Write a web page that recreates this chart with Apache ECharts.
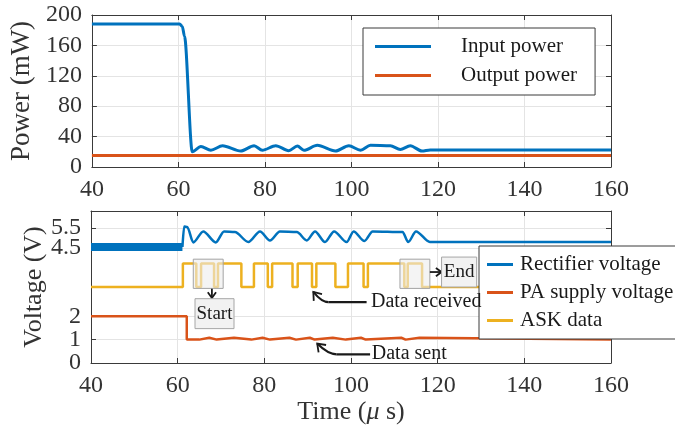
<!DOCTYPE html>
<html>
<head>
<meta charset="utf-8">
<script src="https://cdn.jsdelivr.net/npm/echarts@6/dist/echarts.min.js"></script>
<style>
  html, body { margin: 0; padding: 0; background: #ffffff; }
  #chart { width: 675px; height: 431px; }
</style>
</head>
<body>
<div id="chart"></div>
<script>
// ---- Axis ticks ----
const timeTicks = [40, 60, 80, 100, 120, 140, 160];
const powerTicks = [0, 40, 80, 120, 160, 200];
const lowVoltageTicks = [0, 1, 2];
const rectifierTicks = [4.5, 5.5];

// ---- Power (mW) ----
const inputTime  = [40, 60.3, 60.9, 61.4, 63.2, 65.2, 67.5, 70.2, 74.4, 77.5, 79.4, 82.5, 85.5, 87.5, 89.0, 92.1, 96.3, 99.4, 102.1, 104.4, 109.0, 111.3, 113.6, 116.3, 118.2, 160];
const inputPower = [188, 188, 185, 172, 20, 27, 22, 28, 21, 28, 22, 28, 21.5, 27.5, 22, 28.5, 21, 28, 22, 28.5, 28, 23, 28, 21, 22.5, 22.5];
const outputTime  = [40, 160];
const outputPower = [15, 15];

// ---- Rectifier voltage (V): rippling band before the link starts, then the response ----
const rectRippleTime = [40, 61.1];
const rectRippleVolt = [4.55, 4.55];
const rectTime = [61.1, 61.5, 62.2, 63.6, 65.9, 68.8, 70.7, 73.2, 76.3, 79.0, 81.3, 83.6, 87.5, 89.8, 91.7, 94.0, 96.1, 99.0, 100.6, 103.1, 105.0, 111.9, 113.2, 115.0, 118.2, 160];
const rectVolt = [4.55, 5.58, 5.55, 4.78, 5.33, 4.78, 5.33, 5.3, 4.8, 5.33, 4.88, 5.33, 5.3, 4.88, 5.33, 4.8, 5.33, 4.8, 5.33, 4.85, 5.33, 5.3, 4.8, 5.33, 4.8, 4.8];

// ---- PA supply voltage (V), level holds from each time on ----
const paTime = [40, 62.1, 65.0, 67.3, 69.0, 73.0, 77.0, 79.6, 81.3, 85.8, 87.3, 90.5, 91.6, 95.8, 98.8, 102.3, 103.4, 111.6, 112.6, 115.8, 160];
const paVolt = [2, 1, 1.08, 1, 1.08, 1, 1.08, 1, 1.08, 1, 1.08, 1, 1.08, 1, 1.08, 1, 1.08, 1, 1.08, 1, 1];

// ---- ASK data (offset trace), level holds from each time on ----
const askTime  = [40, 61.2, 64.3, 65.4, 68.4, 69.3, 74.7, 77.6, 80.8, 81.8, 86.5, 87.7, 91.0, 92.0, 96.4, 99.3, 102.9, 103.9, 112.3, 113.1, 116.4, 160];
const askLevel = [3.25, 4.25, 3.25, 4.25, 3.25, 4.25, 3.25, 4.25, 3.25, 4.25, 3.25, 4.25, 3.25, 4.25, 3.25, 4.25, 3.25, 4.25, 3.25, 4.25, 3.25, 3.25];

const zip = (xs, ys) => xs.map((x, i) => [x, ys[i]]);

const FONT = 'Liberation Serif';
const AXIS_COLOR = '#3a3a3a';
const LABEL_COLOR = '#333333';
const GRID_COLOR = '#e4e4e4';
const BLUE = '#0072BD';
const RED = '#D95319';
const ORANGE = '#EDB120';

// Lower panel scales: supply / ASK traces on one, rectifier on the other.
const LOW_RANGE = [0, 6.5];
const RECT_RANGE = [-1.25, 6.35];

const chart = echarts.init(document.getElementById('chart'), null, { renderer: 'canvas' });

const axisLine = { show: true, onZero: false, lineStyle: { color: AXIS_COLOR, width: 1 } };
const innerTick = { show: true, inside: true, length: 5, lineStyle: { color: AXIS_COLOR, width: 1 } };
const tickLabel = { fontFamily: FONT, fontSize: 24, color: LABEL_COLOR };
const gridLine = { show: true, lineStyle: { color: GRID_COLOR, width: 1, type: 'solid' } };

function timeAxis(gridIndex, position, withLabels, extra) {
  return Object.assign({
    gridIndex, type: 'value', position,
    min: timeTicks[0], max: timeTicks[timeTicks.length - 1], interval: 20,
    axisLine, axisTick: innerTick,
    axisLabel: withLabels ? Object.assign({ margin: 11 }, tickLabel) : { show: false },
    splitLine: withLabels ? gridLine : { show: false }
  }, extra || {});
}

// Lower panel axes carry their own tick lists. Closely spaced labels are put on
// separate axes sharing the same scale so that none of them gets dropped.
function customYAxis(position, range, ticks, withLabels, showLine, extra) {
  return Object.assign({
    gridIndex: 1, type: 'value', position, offset: 0, min: range[0], max: range[1],
    axisLine: Object.assign({}, axisLine, { show: showLine }),
    axisTick: Object.assign({}, innerTick, { customValues: ticks }),
    axisLabel: withLabels
      ? Object.assign({ margin: 10, customValues: ticks, showMinLabel: true, showMaxLabel: true }, tickLabel)
      : { show: false },
    splitLine: withLabels ? gridLine : { show: false }
  }, extra || {});
}

const option = {
  backgroundColor: '#ffffff',
  animation: false,
  grid: [
    { left: 91, top: 15, width: 520, height: 152, containLabel: false },
    { left: 91, top: 211, width: 520, height: 152, containLabel: false }
  ],
  xAxis: [
    timeAxis(0, 'bottom', true),
    timeAxis(0, 'top', false),
    timeAxis(1, 'bottom', true, {
      name: '{n|Time (}{i|\u03bc}{n| s)}',
      nameLocation: 'middle', nameGap: 36,
      nameTextStyle: {
        rich: {
          n: { fontFamily: FONT, fontSize: 26, color: LABEL_COLOR },
          i: { fontFamily: FONT, fontSize: 26, fontStyle: 'italic', color: LABEL_COLOR }
        }
      }
    }),
    timeAxis(1, 'top', false)
  ],
  yAxis: [
    {
      gridIndex: 0, type: 'value', position: 'left', min: 0, max: 200, interval: 40,
      axisLine, axisTick: innerTick,
      axisLabel: Object.assign({ margin: 10 }, tickLabel),
      splitLine: gridLine,
      name: 'Power (mW)', nameLocation: 'middle', nameGap: 55, nameRotate: 90,
      nameTextStyle: { fontFamily: FONT, fontSize: 27, color: LABEL_COLOR }
    },
    {
      gridIndex: 0, type: 'value', position: 'right', min: 0, max: 200, interval: 40,
      axisLine, axisTick: innerTick, axisLabel: { show: false }, splitLine: { show: false }
    },
    // 2: supply / ASK scale, ticks 0 and 2 (series are drawn on this one)
    customYAxis('left', LOW_RANGE, [lowVoltageTicks[0], lowVoltageTicks[2]], true, true, {
      name: 'Voltage (V)', nameLocation: 'middle', nameGap: 44, nameRotate: 90,
      nameTextStyle: { fontFamily: FONT, fontSize: 26, color: LABEL_COLOR }
    }),
    // 3: same scale, tick 1
    customYAxis('left', LOW_RANGE, [lowVoltageTicks[1]], true, false),
    // 4: rectifier scale, tick 4.5 (rectifier series drawn on this one)
    customYAxis('left', RECT_RANGE, [rectifierTicks[0]], true, false),
    // 5: rectifier scale, tick 5.5
    customYAxis('left', RECT_RANGE, [rectifierTicks[1]], true, false),
    // 6, 7: mirrored ticks on the right edge
    customYAxis('right', LOW_RANGE, lowVoltageTicks, false, true),
    customYAxis('right', RECT_RANGE, rectifierTicks, false, false)
  ],
  legend: [
    {
      data: ['Input power', 'Output power'],
      orient: 'vertical', left: 363, top: 28,
      icon: 'rect', itemWidth: 56, itemHeight: 3, itemGap: 8,
      padding: [8, 18, 9, 12],
      backgroundColor: '#ffffff', borderColor: AXIS_COLOR, borderWidth: 1,
      selectedMode: false,
      textStyle: { fontFamily: FONT, fontSize: 21, color: '#1a1a1a', padding: [0, 0, 0, 25] }
    },
    {
      data: ['Rectifier voltage', 'PA supply voltage', 'ASK data'],
      orient: 'vertical', left: 479, top: 246,
      icon: 'rect', itemWidth: 26, itemHeight: 3, itemGap: 7,
      padding: [8, 16, 8, 8],
      backgroundColor: '#ffffff', borderColor: AXIS_COLOR, borderWidth: 1,
      selectedMode: false,
      textStyle: { fontFamily: FONT, fontSize: 21, color: '#1a1a1a', padding: [0, 0, 0, 2] }
    }
  ],
  series: [
    {
      name: 'Input power', type: 'line', xAxisIndex: 0, yAxisIndex: 0,
      data: zip(inputTime, inputPower), symbol: 'none', smooth: 0.3, smoothMonotone: 'x',
      lineStyle: { color: BLUE, width: 3 }, itemStyle: { color: BLUE }
    },
    {
      name: 'Output power', type: 'line', xAxisIndex: 0, yAxisIndex: 0,
      data: zip(outputTime, outputPower), symbol: 'none',
      lineStyle: { color: RED, width: 3 }, itemStyle: { color: RED }
    },
    {
      name: 'Rectifier voltage', type: 'line', xAxisIndex: 2, yAxisIndex: 4,
      data: zip(rectTime, rectVolt), symbol: 'none', smooth: 0.3, smoothMonotone: 'x',
      lineStyle: { color: BLUE, width: 2.5 }, itemStyle: { color: BLUE }
    },
    {
      name: 'Rectifier voltage', type: 'line', xAxisIndex: 2, yAxisIndex: 4,
      data: zip(rectRippleTime, rectRippleVolt), symbol: 'none',
      lineStyle: { color: BLUE, width: 8 }, itemStyle: { color: BLUE }
    },
    {
      name: 'PA supply voltage', type: 'line', xAxisIndex: 2, yAxisIndex: 2,
      data: zip(paTime, paVolt), symbol: 'none', step: 'end',
      lineStyle: { color: RED, width: 2.5 }, itemStyle: { color: RED }
    },
    {
      name: 'ASK data', type: 'line', xAxisIndex: 2, yAxisIndex: 2,
      data: zip(askTime, askLevel), symbol: 'none', step: 'end',
      lineStyle: { color: ORANGE, width: 2.5 }, itemStyle: { color: ORANGE },
      markArea: {
        silent: true, z: 10,
        itemStyle: { color: 'rgba(236,236,236,0.6)', borderColor: '#a3a3a3', borderWidth: 1 },
        data: [
          [{ xAxis: 63.6, yAxis: 4.44 }, { xAxis: 70.5, yAxis: 3.19 }],
          [{ xAxis: 111.3, yAxis: 4.44 }, { xAxis: 118.2, yAxis: 3.19 }]
        ]
      }
    }
  ]
};

chart.setOption(option);

// ---- Annotations, anchored in the lower panel's time / voltage coordinates ----
const toPx = (t, v) => chart.convertToPixel({ xAxisIndex: 2, yAxisIndex: 2 }, [t, v]);
const INK = '#1a1a1a';

function chevron(tip, from, size) {
  const dx = tip[0] - from[0], dy = tip[1] - from[1];
  const len = Math.hypot(dx, dy) || 1;
  const ux = dx / len, uy = dy / len;
  const a = Math.PI / 5;
  const c = Math.cos(a), s = Math.sin(a);
  const p1 = [tip[0] - size * (ux * c - uy * s), tip[1] - size * (uy * c + ux * s)];
  const p2 = [tip[0] - size * (ux * c + uy * s), tip[1] - size * (uy * c - ux * s)];
  return { type: 'polyline', z: 100, shape: { points: [p1, tip, p2] }, style: { stroke: INK, lineWidth: 1.8, fill: null } };
}

function labelBox(t0, t1, v0, v1, text) {
  const a = toPx(t0, v1), b = toPx(t1, v0);
  return [
    { type: 'rect', z: 100, shape: { x: a[0], y: a[1], width: b[0] - a[0], height: b[1] - a[1] },
      style: { fill: '#f2f2f2', stroke: '#a6a6a6', lineWidth: 1 } },
    { type: 'text', z: 101, style: { text, x: (a[0] + b[0]) / 2, y: (a[1] + b[1]) / 2,
      align: 'center', verticalAlign: 'middle', fontFamily: FONT, fontSize: 19, fill: INK } }
  ];
}

function straightArrow(t0, v0, t1, v1) {
  const p0 = toPx(t0, v0), p1 = toPx(t1, v1);
  return [
    { type: 'line', z: 100, shape: { x1: p0[0], y1: p0[1], x2: p1[0], y2: p1[1] }, style: { stroke: INK, lineWidth: 1.8 } },
    chevron(p1, p0, 7)
  ];
}

function bentArrow(start, corner, tip) {
  const p0 = toPx(start[0], start[1]);
  const pc = toPx(corner[0], corner[1]);
  const pt = toPx(tip[0], tip[1]);
  const ctrl = [pc[0] - (pc[0] - pt[0]) * 0.45, pc[1]];
  return [
    { type: 'line', z: 100, shape: { x1: p0[0], y1: p0[1], x2: pc[0], y2: pc[1] }, style: { stroke: INK, lineWidth: 2.2 } },
    { type: 'bezierCurve', z: 100, shape: { x1: pc[0], y1: pc[1], cpx1: ctrl[0], cpy1: ctrl[1], x2: pt[0], y2: pt[1] },
      style: { stroke: INK, lineWidth: 2.2, fill: null } },
    chevron(pt, ctrl, 9)
  ];
}

function plainText(t, v, text) {
  const p = toPx(t, v);
  return { type: 'text', z: 101, style: { text, x: p[0], y: p[1], align: 'left', verticalAlign: 'middle',
    fontFamily: FONT, fontSize: 20, fill: INK } };
}

const graphics = [].concat(
  straightArrow(67.9, 3.18, 67.9, 2.78),
  labelBox(64.0, 73.0, 1.47, 2.75, 'Start'),
  straightArrow(118.2, 3.89, 120.9, 3.89),
  labelBox(120.9, 129.0, 3.25, 4.53, 'End'),
  bentArrow([103.6, 2.6], [94.8, 2.6], [91.3, 3.04]),
  [plainText(104.6, 2.64, 'Data received')],
  bentArrow([104.4, 0.37], [96.7, 0.37], [92.2, 0.83]),
  [plainText(104.8, 0.40, 'Data sent')]
);

chart.setOption({ graphic: graphics });
</script>
</body>
</html>
